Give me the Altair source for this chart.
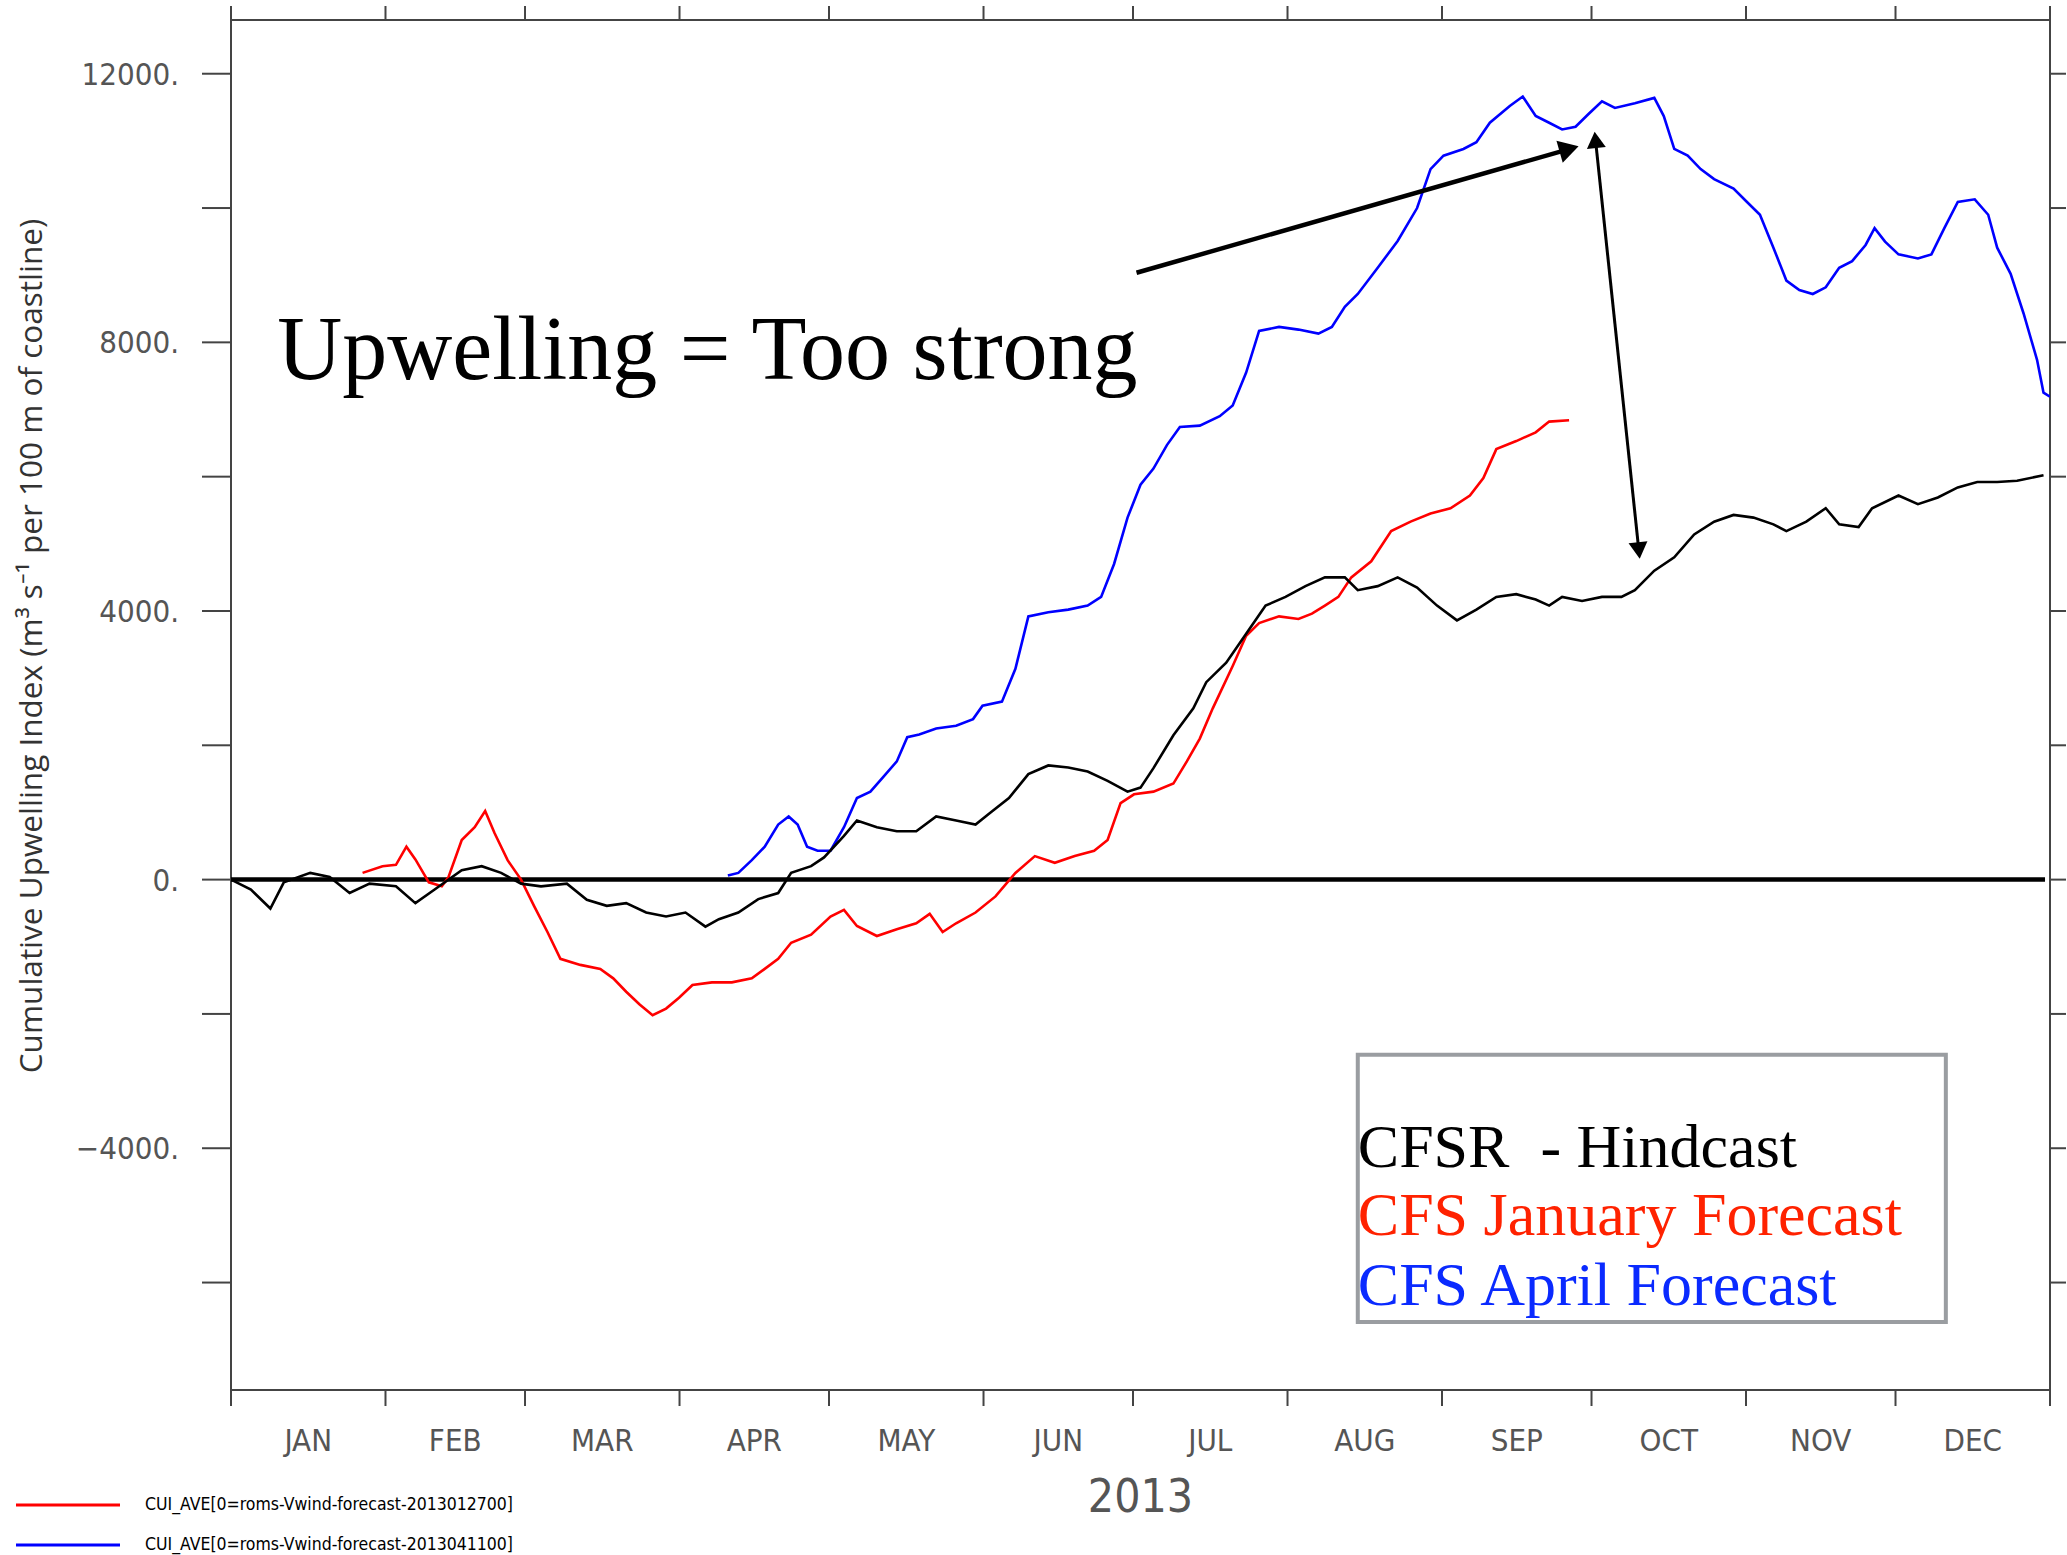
import math
import altair as alt
import pandas as pd

# ---- CFSR hindcast: day of year (2013) and cumulative upwelling index ----
cfsr_day = [0, 4.0, 7.9, 10.6, 15.9, 19.8, 23.8, 27.8, 33.1, 37.0, 41.0, 46.3, 50.3, 54.2,
            58.2, 62.2, 67.4, 71.4, 75.4, 79.3, 83.3, 87.3, 91.2, 95.2, 97.9, 101.8, 105.8,
            109.8, 112.4, 116.4, 119.0, 123.0, 125.6, 129.6, 133.6, 137.5, 141.5, 145.5,
            149.4, 152.1, 156.1, 160.0, 164.0, 168.0, 171.9, 175.9, 179.9, 182.5, 185.1,
            189.1, 193.1, 195.7, 199.7, 203.7, 207.6, 211.6, 215.6, 219.5, 223.5, 226.1,
            230.1, 234.1, 238.0, 242.0, 246.0, 249.9, 253.9, 257.9, 261.8, 264.5, 267.1,
            271.1, 275.1, 279.0, 281.7, 285.6, 289.6, 293.6, 297.6, 301.5, 305.5, 309.5,
            312.1, 316.1, 320.0, 322.7, 326.6, 329.3, 334.6, 338.5, 342.5, 346.5, 350.4,
            354.4, 358.4, 363.7]
cfsr_val = [0, -150, -430, -40, 100, 40, -200, -60, -100, -350, -140, 140, 200, 100,
            -60, -100, -60, -300, -390, -350, -490, -550, -490, -700, -590, -490, -290,
            -200, 100, 200, 330, 650, 880, 780, 720, 720, 940, 880,
            820, 980, 1215, 1570, 1700, 1670, 1610, 1470, 1310, 1370, 1660,
            2150, 2550, 2940, 3230, 3660, 4080, 4210, 4370, 4500, 4500, 4310,
            4370, 4500, 4350, 4080, 3860, 4020, 4210, 4250, 4170, 4080, 4210,
            4150, 4210, 4210, 4310, 4600, 4800, 5140, 5330, 5430, 5390, 5290,
            5190, 5330, 5530, 5290, 5250, 5530, 5720, 5590, 5690, 5840, 5920,
            5920, 5940, 6020]

# ---- CFS forecast initialised 27 Jan 2013 ----
jan_day = [26.4, 30.4, 33.1, 35.2, 37.0, 39.7, 42.3, 43.6, 46.3, 48.9, 51.0, 52.9, 55.5,
           58.2, 60.8, 63.5, 66.1, 70.1, 74.1, 76.7, 79.3, 82.0, 84.6, 87.3, 89.9, 92.6,
           96.5, 100.5, 104.5, 107.1, 109.8, 112.4, 116.4, 120.3, 123.0, 125.6, 129.6,
           133.6, 137.5, 140.2, 142.8, 145.5, 149.4, 153.4, 157.4, 161.3, 165.3, 169.3,
           173.2, 175.9, 178.5, 181.2, 185.1, 189.1, 191.8, 194.4, 197.0, 201.0, 203.7,
           206.3, 210.3, 214.2, 216.9, 219.5, 222.2, 224.8, 228.8, 232.8, 236.7, 240.7,
           244.7, 248.6, 251.3, 253.9, 257.9, 261.8, 264.5, 268.5]
jan_val = [100, 200, 220, 490, 300, -40, -100, 30, 590, 780, 1020, 690, 290,
           0, -390, -780, -1180, -1270, -1330, -1470, -1670, -1860, -2020, -1920, -1760, -1570,
           -1530, -1530, -1470, -1330, -1180, -940, -820, -550, -450, -690, -840,
           -740, -650, -510, -780, -650, -490, -250, 100, 350, 250, 350,
           430, 590, 1140, 1270, 1310, 1430, 1760, 2100, 2550, 3180, 3630,
           3820, 3920, 3880, 3960, 4080, 4210, 4500, 4740, 5190, 5330, 5450,
           5530, 5720, 5980, 6410, 6530, 6660, 6820, 6840]

# ---- CFS forecast initialised 11 Apr 2013 ----
apr_day = [99.7, 101.8, 104.5, 107.1, 109.8, 111.9, 113.7, 115.6, 117.7, 120.3, 123.0,
           125.6, 128.3, 130.9, 133.6, 135.7, 138.1, 141.5, 145.5, 148.9, 150.8, 154.7,
           157.4, 160.0, 164.0, 168.0, 171.9, 174.6, 177.2, 179.9, 182.5, 185.1, 187.8,
           190.4, 194.4, 198.4, 201.0, 203.7, 206.3, 210.3, 214.2, 218.2, 220.9, 223.5,
           226.1, 230.1, 234.1, 238.0, 240.7, 243.3, 247.3, 249.9, 252.6, 256.6, 259.2,
           261.8, 264.5, 267.1, 269.8, 272.4, 275.1, 277.7, 281.7, 285.6, 287.5, 289.6,
           292.3, 294.9, 297.6, 301.5, 304.2, 306.8, 309.5, 312.1, 314.7, 317.4, 320.0,
           322.7, 325.3, 328.0, 329.8, 331.9, 334.6, 338.5, 341.2, 343.8, 346.5, 349.9,
           352.6, 354.4, 357.1, 359.7, 362.4, 363.7, 365.0]
apr_val = [60, 100, 290, 490, 820, 940, 820, 490, 430, 430, 780,
           1215, 1310, 1530, 1760, 2120, 2160, 2250, 2290, 2390, 2590, 2650,
           3140, 3920, 3980, 4020, 4080, 4210, 4700, 5390, 5880, 6120, 6470,
           6740, 6760, 6900, 7060, 7550, 8170, 8230, 8190, 8130, 8230, 8530,
           8720, 9110, 9510, 10000, 10580, 10780, 10880, 10980, 11270, 11520, 11660,
           11370, 11270, 11170, 11210, 11400, 11590, 11490, 11560, 11640, 11370, 10880,
           10780, 10580, 10430, 10290, 10090, 9900, 9410, 8920, 8780, 8720, 8820,
           9110, 9210, 9450, 9700, 9500, 9310, 9250, 9310, 9700, 10090, 10130,
           9900, 9410, 9020, 8430, 7740, 7250, 7190]

# ---- axes ----
month_names = ["JAN", "FEB", "MAR", "APR", "MAY", "JUN",
               "JUL", "AUG", "SEP", "OCT", "NOV", "DEC"]
month_starts = [0, 31, 59, 90, 120, 151, 181, 212, 243, 273, 304, 334, 365]
y_ticks = [-6000, -4000, -2000, 0, 2000, 4000, 6000, 8000, 10000, 12000]
y_labels = [-4000, 0, 4000, 8000, 12000]
x_title = "2013"
y_title = "Cumulative Upwelling Index (m\u00b3 s\u207b\u00b9 per 100 m of coastline)"

# ---- annotation and legend content ----
legend_labels = ["CFSR\u00a0 - Hindcast", "CFS January Forecast", "CFS April Forecast"]
legend_colors = ["#000000", "#ff2200", "#0a2aff"]
legend_day = 226.1
legend_vals = [-4273, -5292, -6331]
legend_box = {"d0": 226.1, "d1": 344.1, "v0": -2607, "v1": -6586}
note_text = "Upwelling = Too strong"
note_pos = (9.3, 7448)
arrow_one = (181.7, 9036, 268.5, 10878)
arrow_two = (273.8, 11015, 282.5, 4900)
ctl_labels = ["CUI_AVE[0=roms-Vwind-forecast-2013012700]",
              "CUI_AVE[0=roms-Vwind-forecast-2013041100]"]

W, H = 1819, 1370
X_DOM = [0, 365]
Y_DOM = [-7600, 12800]
AX_FONT = "DejaVu Sans Condensed, Liberation Sans Narrow, Roboto Condensed, DejaVu Sans, sans-serif"
SERIF = "Liberation Serif, Times New Roman, serif"
AX_COLOR = "#444444"
LBL_COLOR = "#555555"

xs = alt.Scale(domain=X_DOM, nice=False, zero=False)
ys = alt.Scale(domain=Y_DOM, nice=False, zero=False)


def X(field):
    return alt.X(field, scale=xs, axis=None)


def Y(field):
    return alt.Y(field, scale=ys, axis=None)


def series_layer(days, vals, color):
    df = pd.DataFrame({"day": days, "value": vals})
    return alt.Chart(df).mark_line(color=color, strokeWidth=2.6, clip=True).encode(
        x=X("day:Q"), y=Y("value:Q"))


# ---- frame ticks (outward on all four sides) and tick labels ----
months_df = pd.DataFrame({"day": month_starts})
yt_df = pd.DataFrame({"value": y_ticks})
tick_style = dict(color=AX_COLOR, strokeWidth=2)

bottom_ticks = alt.Chart(months_df).mark_rule(**tick_style).encode(
    x=X("day:Q"), y=alt.value(H), y2=alt.value(H + 16))
top_ticks = alt.Chart(months_df).mark_rule(**tick_style).encode(
    x=X("day:Q"), y=alt.value(0), y2=alt.value(-14))
left_ticks = alt.Chart(yt_df).mark_rule(**tick_style).encode(
    y=Y("value:Q"), x=alt.value(-29), x2=alt.value(0))
right_ticks = alt.Chart(yt_df).mark_rule(**tick_style).encode(
    y=Y("value:Q"), x=alt.value(W), x2=alt.value(W + 16))

ylab_df = pd.DataFrame({"value": y_labels,
                        "t": [f"{v}.".replace("-", "\u2212") for v in y_labels]})
y_labels_layer = alt.Chart(ylab_df).mark_text(
    font=AX_FONT, fontSize=31, color=LBL_COLOR, align="right", baseline="middle",
    dy=2).encode(
    y=Y("value:Q"), x=alt.value(-52), text="t:N")

mid_days = [(month_starts[i] + month_starts[i + 1]) / 2 for i in range(12)]
months = alt.Chart(pd.DataFrame({"day": mid_days, "m": month_names})).mark_text(
    font=AX_FONT, fontSize=31, color=LBL_COLOR, baseline="middle", align="center").encode(
    x=X("day:Q"), y=alt.value(H + 52), text="m:N")

titles_df = pd.DataFrame({"t": [x_title]})
x_title_layer = alt.Chart(titles_df).mark_text(
    font=AX_FONT, fontSize=46, color=LBL_COLOR, baseline="middle", align="center").encode(
    x=alt.value(W / 2), y=alt.value(H + 108), text="t:N")
y_title_layer = alt.Chart(pd.DataFrame({"t": [y_title]})).mark_text(
    font="Open Sans", fontSize=31.5, color="#333333", baseline="middle", align="center",
    angle=270).encode(
    x=alt.value(-198), y=alt.value(626), text="t:N")

# zero reference line
zero = alt.Chart(pd.DataFrame({"day": [0], "day2": [364], "value": [0]})).mark_rule(
    color="#000000", strokeWidth=4.5).encode(
    x=X("day:Q"), x2="day2:Q", y=Y("value:Q"))

red = series_layer(jan_day, jan_val, "#ff0000")
blue = series_layer(apr_day, apr_val, "#0000ff")
black = series_layer(cfsr_day, cfsr_val, "#000000")

# annotation text
note = alt.Chart(pd.DataFrame({"day": [note_pos[0]], "value": [note_pos[1]],
                               "t": [note_text]})).mark_text(
    font=SERIF, fontSize=90, color="#000000", align="left", baseline="alphabetic").encode(
    x=X("day:Q"), y=Y("value:Q"), text="t:N")

# arrows
px_day = W / (X_DOM[1] - X_DOM[0])
px_val = H / (Y_DOM[1] - Y_DOM[0])


def head_angle(d0, v0, d1, v1):
    dx = (d1 - d0) * px_day
    dy = -(v1 - v0) * px_val
    return (math.degrees(math.atan2(dx, -dy)) + 360) % 360


shafts = alt.Chart(pd.DataFrame({
    "d0": [arrow_one[0], arrow_two[0]], "v0": [arrow_one[1], arrow_two[1]],
    "d1": [arrow_one[2], arrow_two[2]], "v1": [arrow_one[3], arrow_two[3]],
    "w": [4.5, 3.0]})).mark_rule(color="#000000").encode(
    x=X("d0:Q"), x2="d1:Q", y=Y("v0:Q"), y2="v1:Q",
    strokeWidth=alt.StrokeWidth("w:Q", scale=None))

heads_df = pd.DataFrame({
    "day": [arrow_one[2], arrow_two[2], arrow_two[0]],
    "value": [arrow_one[3], arrow_two[3], arrow_two[1]],
    "ang": [head_angle(*arrow_one),
            head_angle(*arrow_two),
            head_angle(arrow_two[2], arrow_two[3], arrow_two[0], arrow_two[1])],
    "sz": [520, 360, 360]})
heads = alt.Chart(heads_df).mark_point(shape="triangle-up", filled=True, color="#000000",
                                       opacity=1).encode(
    x=X("day:Q"), y=Y("value:Q"),
    angle=alt.Angle("ang:Q", scale=None), size=alt.Size("sz:Q", scale=None))

# legend box with coloured labels
box = alt.Chart(pd.DataFrame([legend_box])).mark_rect(
    fill="transparent", stroke="#9a9da1", strokeWidth=4).encode(
    x=X("d0:Q"), x2="d1:Q", y=Y("v0:Q"), y2="v1:Q")
leg_text = alt.Chart(pd.DataFrame({"day": [legend_day] * 3, "value": legend_vals,
                                   "t": legend_labels, "c": legend_colors})).mark_text(
    font=SERIF, fontSize=62, align="left", baseline="alphabetic").encode(
    x=X("day:Q"), y=Y("value:Q"), text="t:N", color=alt.Color("c:N", scale=None))

# GrADS line key below the axes
ctl_df = pd.DataFrame({"t": ctl_labels, "c": ["#ff0000", "#0000ff"], "yy": [1485, 1525]})
ctl_lines = alt.Chart(ctl_df).mark_rule(strokeWidth=3).encode(
    x=alt.value(-215), x2=alt.value(-111), y=alt.Y("yy:Q", scale=None),
    color=alt.Color("c:N", scale=None))
ctl_text = alt.Chart(ctl_df).mark_text(font=AX_FONT, fontSize=17.5, color="#000000",
                                       align="left", baseline="middle").encode(
    x=alt.value(-86), y=alt.Y("yy:Q", scale=None), text="t:N")

chart = alt.layer(
    zero, red, blue, black,
    bottom_ticks, top_ticks, left_ticks, right_ticks,
    y_labels_layer, months, x_title_layer, y_title_layer,
    note, shafts, heads, box, leg_text, ctl_lines, ctl_text
).properties(
    width=W, height=H,
    autosize=alt.AutoSizeParams(type="none"),
    padding={"left": 231, "top": 20, "right": 17, "bottom": 165},
    background="white",
).configure_view(stroke=AX_COLOR, strokeWidth=2)

chart.save("out.html", embed_options={"renderer": "svg", "actions": False})
